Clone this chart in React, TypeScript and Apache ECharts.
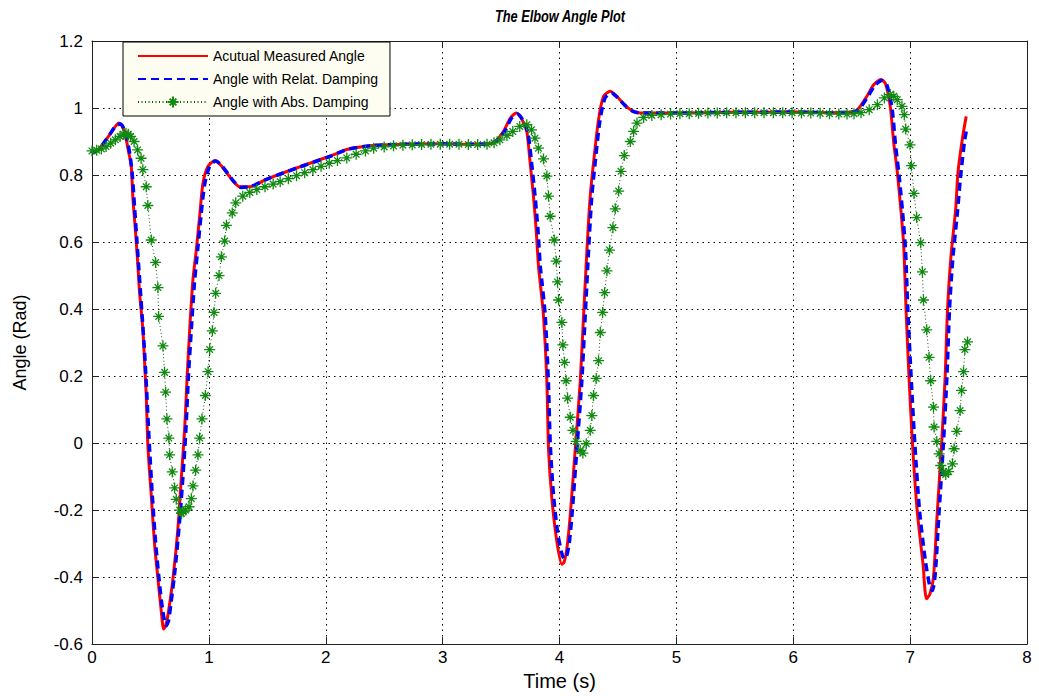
import React, { useEffect, useRef } from "react";
import * as echarts from "echarts";

const TITLE = "The Elbow Angle Plot";
const X_NAME = "Time (s)";
const Y_NAME = "Angle (Rad)";
const SERIES_NAMES = ["Acutual Measured Angle", "Angle with Relat. Damping", "Angle with Abs. Damping"];
const X_MIN = 0, X_MAX = 8, X_STEP = 1;
const Y_MIN = -0.6, Y_MAX = 1.2, Y_STEP = 0.2;

// Measured angle [time, angle]
const measured: number[][] = [
  [0, 0.865], [0.05, 0.875], [0.1, 0.895], [0.15, 0.92], [0.2, 0.945], [0.23, 0.955], [0.26, 0.945],
  [0.29, 0.91], [0.31, 0.875], [0.336, 0.826], [0.35, 0.73], [0.373, 0.628], [0.393, 0.529], [0.407, 0.449],
  [0.435, 0.34], [0.45, 0.241], [0.464, 0.142], [0.478, -0.007], [0.507, -0.156], [0.536, -0.305],
  [0.564, -0.404], [0.593, -0.503], [0.613, -0.555], [0.63, -0.545], [0.65, -0.513], [0.693, -0.404],
  [0.735, -0.255], [0.764, -0.106], [0.793, 0.043], [0.813, 0.191], [0.836, 0.34], [0.864, 0.489],
  [0.893, 0.578], [0.921, 0.677], [0.95, 0.777], [0.993, 0.826], [1.05, 0.843], [1.1, 0.83], [1.15, 0.808],
  [1.2, 0.785], [1.264, 0.765], [1.35, 0.765], [1.49, 0.787], [1.75, 0.821], [2.035, 0.856], [2.18, 0.876],
  [2.4, 0.888], [2.7, 0.892], [3.0, 0.893], [3.2, 0.892], [3.4, 0.893], [3.45, 0.9], [3.52, 0.93],
  [3.58, 0.97], [3.63, 0.985], [3.68, 0.965], [3.72, 0.93], [3.749, 0.836], [3.777, 0.737], [3.8, 0.638],
  [3.82, 0.529], [3.835, 0.479], [3.863, 0.38], [3.892, 0.182], [3.906, -0.017], [3.935, -0.166],
  [3.978, -0.295], [4.02, -0.362], [4.04, -0.355], [4.063, -0.315], [4.092, -0.215], [4.135, -0.017],
  [4.177, 0.182], [4.206, 0.38], [4.235, 0.578], [4.263, 0.737], [4.291, 0.836], [4.334, 0.965],
  [4.377, 1.035], [4.434, 1.05], [4.49, 1.035], [4.549, 1.012], [4.62, 0.992], [4.69, 0.985], [5.0, 0.985],
  [5.5, 0.987], [6.0, 0.988], [6.3, 0.986], [6.5, 0.988], [6.55, 0.995], [6.63, 1.035], [6.69, 1.07],
  [6.75, 1.085], [6.79, 1.072], [6.83, 1.005], [6.86, 0.895], [6.89, 0.81], [6.92, 0.7], [6.945, 0.59],
  [6.965, 0.4], [6.99, 0.2], [7.02, 0.0], [7.06, -0.2], [7.11, -0.36], [7.14, -0.465], [7.17, -0.45],
  [7.2, -0.4], [7.23, -0.22], [7.27, 0.0], [7.3, 0.2], [7.32, 0.4], [7.35, 0.56], [7.39, 0.7], [7.41, 0.81],
  [7.45, 0.915], [7.48, 0.975],
];

// Relative damping [time, angle]
const relDamping: number[][] = [
  [0, 0.865], [0.05, 0.875], [0.1, 0.895], [0.15, 0.92], [0.2, 0.945], [0.24, 0.952], [0.27, 0.94],
  [0.3, 0.905], [0.325, 0.86], [0.345, 0.8], [0.365, 0.7], [0.385, 0.6], [0.405, 0.5], [0.425, 0.4],
  [0.45, 0.27], [0.47, 0.14], [0.49, 0.0], [0.515, -0.15], [0.545, -0.3], [0.575, -0.41], [0.605, -0.5],
  [0.635, -0.545], [0.655, -0.53], [0.675, -0.48], [0.71, -0.38], [0.75, -0.23], [0.78, -0.09],
  [0.805, 0.05], [0.825, 0.2], [0.85, 0.34], [0.877, 0.48], [0.905, 0.58], [0.933, 0.68], [0.963, 0.77],
  [1.005, 0.825], [1.06, 0.842], [1.11, 0.828], [1.16, 0.805], [1.21, 0.782], [1.275, 0.763],
  [1.36, 0.766], [1.5, 0.788], [1.76, 0.822], [2.04, 0.856], [2.19, 0.877], [2.4, 0.888], [2.7, 0.892],
  [3.0, 0.893], [3.2, 0.892], [3.4, 0.893], [3.46, 0.902], [3.53, 0.93], [3.59, 0.97], [3.64, 0.982],
  [3.69, 0.962], [3.73, 0.925], [3.76, 0.84], [3.79, 0.74], [3.815, 0.64], [3.835, 0.53], [3.85, 0.48],
  [3.878, 0.38], [3.905, 0.18], [3.922, -0.01], [3.95, -0.16], [3.99, -0.28], [4.04, -0.345],
  [4.06, -0.338], [4.083, -0.3], [4.11, -0.2], [4.15, -0.01], [4.19, 0.18], [4.22, 0.38], [4.248, 0.57],
  [4.275, 0.73], [4.303, 0.83], [4.345, 0.96], [4.39, 1.03], [4.445, 1.045], [4.5, 1.03], [4.56, 1.008],
  [4.63, 0.99], [4.7, 0.985], [5.0, 0.985], [5.5, 0.987], [6.0, 0.988], [6.3, 0.986], [6.5, 0.988],
  [6.56, 0.995], [6.64, 1.035], [6.7, 1.068], [6.76, 1.082], [6.8, 1.07], [6.845, 1.0], [6.875, 0.89],
  [6.905, 0.8], [6.935, 0.69], [6.96, 0.58], [6.98, 0.4], [7.008, 0.2], [7.04, 0.0], [7.08, -0.2],
  [7.13, -0.35], [7.17, -0.43], [7.19, -0.44], [7.215, -0.39], [7.245, -0.22], [7.285, 0.0], [7.315, 0.2],
  [7.337, 0.4], [7.365, 0.55], [7.405, 0.69], [7.43, 0.79], [7.465, 0.9], [7.48, 0.93],
];

// Absolute damping samples [time, angle]
const absDamping: number[][] = [
  [0, 0.872], [0.04, 0.874], [0.08, 0.878], [0.12, 0.885], [0.16, 0.895], [0.2, 0.905], [0.24, 0.915],
  [0.27, 0.922], [0.29, 0.925], [0.31, 0.922], [0.33, 0.915], [0.36, 0.9], [0.39, 0.875], [0.42, 0.85],
  [0.435, 0.816], [0.464, 0.765], [0.478, 0.709], [0.507, 0.606], [0.544, 0.539], [0.564, 0.464],
  [0.57, 0.378], [0.607, 0.29], [0.621, 0.211], [0.63, 0.152], [0.641, 0.072], [0.658, 0.015],
  [0.664, -0.035], [0.687, -0.086], [0.707, -0.134], [0.721, -0.168], [0.75, -0.2], [0.765, -0.21],
  [0.78, -0.205], [0.8, -0.2], [0.83, -0.19], [0.85, -0.166], [0.864, -0.128], [0.887, -0.081],
  [0.907, -0.035], [0.921, 0.015], [0.941, 0.072], [0.97, 0.142], [0.993, 0.213], [1.007, 0.279],
  [1.03, 0.335], [1.044, 0.39], [1.058, 0.447], [1.087, 0.5], [1.107, 0.556], [1.135, 0.603], [1.15, 0.65],
  [1.2, 0.687], [1.23, 0.717], [1.29, 0.737], [1.35, 0.748], [1.41, 0.757], [1.48, 0.765], [1.55, 0.773],
  [1.61, 0.78], [1.68, 0.789], [1.75, 0.798], [1.82, 0.807], [1.89, 0.816], [1.96, 0.826], [2.03, 0.835],
  [2.1, 0.843], [2.18, 0.851], [2.26, 0.862], [2.34, 0.872], [2.41, 0.88], [2.5, 0.884], [2.58, 0.887],
  [2.66, 0.889], [2.74, 0.89], [2.82, 0.891], [2.9, 0.892], [2.98, 0.892], [3.06, 0.892], [3.14, 0.892],
  [3.22, 0.891], [3.3, 0.891], [3.38, 0.892], [3.44, 0.896], [3.49, 0.905], [3.55, 0.918], [3.6, 0.93],
  [3.66, 0.945], [3.72, 0.95], [3.76, 0.935], [3.79, 0.91], [3.82, 0.88], [3.863, 0.848], [3.892, 0.797],
  [3.906, 0.737], [3.92, 0.677], [3.955, 0.606], [3.972, 0.543], [3.983, 0.481], [3.992, 0.427],
  [4.02, 0.36], [4.029, 0.293], [4.043, 0.241], [4.057, 0.186], [4.069, 0.134], [4.092, 0.077],
  [4.115, 0.038], [4.143, 0.005], [4.177, -0.022], [4.2, -0.03], [4.229, -0.002], [4.263, 0.038],
  [4.277, 0.082], [4.291, 0.142], [4.314, 0.193], [4.334, 0.246], [4.349, 0.33], [4.369, 0.39],
  [4.386, 0.449], [4.406, 0.514], [4.428, 0.576], [4.457, 0.643], [4.477, 0.699], [4.506, 0.752],
  [4.526, 0.811], [4.554, 0.858], [4.606, 0.9], [4.634, 0.93], [4.663, 0.955], [4.72, 0.972], [4.79, 0.978],
  [4.87, 0.98], [4.95, 0.982], [5.03, 0.983], [5.11, 0.983], [5.19, 0.984], [5.27, 0.985], [5.35, 0.985],
  [5.43, 0.986], [5.51, 0.986], [5.59, 0.986], [5.67, 0.986], [5.75, 0.986], [5.83, 0.986], [5.91, 0.986],
  [5.99, 0.986], [6.07, 0.985], [6.15, 0.985], [6.23, 0.984], [6.31, 0.983], [6.39, 0.982], [6.46, 0.982],
  [6.52, 0.983], [6.58, 0.986], [6.65, 0.995], [6.72, 1.01], [6.78, 1.03], [6.83, 1.04], [6.86, 1.035],
  [6.89, 1.025], [6.93, 1.005], [6.95, 0.98], [6.962, 0.937], [6.999, 0.89], [7.011, 0.828], [7.033, 0.745],
  [7.056, 0.673], [7.09, 0.598], [7.105, 0.511], [7.114, 0.427], [7.142, 0.338], [7.162, 0.256],
  [7.176, 0.186], [7.2, 0.107], [7.205, 0.048], [7.228, 0.005], [7.248, -0.032], [7.262, -0.067],
  [7.285, -0.085], [7.305, -0.094], [7.33, -0.085], [7.362, -0.062], [7.376, -0.017], [7.399, 0.035],
  [7.428, 0.097], [7.44, 0.157], [7.457, 0.213], [7.468, 0.279], [7.491, 0.302],
];

const FONT = "'Liberation Sans', Arial, sans-serif";
const STAR = "path://M5 0 L5 10 M0 5 L10 5 M2 2 L8 8 M8 2 L2 8";

export default function App() {
  const ref = useRef<HTMLDivElement>(null);
  useEffect(() => {
    if (!ref.current) return;
    const chart = echarts.init(ref.current, null, { renderer: "svg" });
    const fmt = (v: number) => String(Math.round(v * 10) / 10);
    const axisLine = { show: true, onZero: false, lineStyle: { color: "#222", width: 1 } };
    const tick = { show: true, inside: true, length: 7, lineStyle: { color: "#222", width: 1 } };
    const split = { show: true, lineStyle: { color: "#000", width: 1, type: [1.5, 4] as any } };
    chart.setOption({
      animation: false,
      backgroundColor: "#fff",
      graphic: [
        {
          type: "text",
          x: 560,
          y: 8,
          scaleX: 0.8,
          style: {
            text: TITLE,
            textAlign: "center",
            textVerticalAlign: "top",
            fontFamily: FONT,
            fontSize: 16,
            fontWeight: "bold",
            fontStyle: "italic",
            fill: "#000",
          },
        },
      ],
      legend: {
        orient: "vertical",
        left: 123,
        top: 42,
        padding: [7, 12, 7, 14],
        itemWidth: 70,
        itemHeight: 14,
        itemGap: 9,
        backgroundColor: "#fdfdf2",
        borderColor: "#000",
        borderWidth: 1,
        borderRadius: 0,
        textStyle: { fontFamily: FONT, fontSize: 14, color: "#000" },
        data: [
          { name: SERIES_NAMES[0], itemStyle: { opacity: 0 } },
          { name: SERIES_NAMES[1], itemStyle: { opacity: 0 } },
          { name: SERIES_NAMES[2] },
        ],
      },
      grid: { left: 92, right: 12, top: 41, bottom: 49, containLabel: false },
      xAxis: [
        {
          type: "value", min: X_MIN, max: X_MAX, interval: X_STEP,
          name: X_NAME, nameLocation: "middle", nameGap: 23,
          nameTextStyle: { fontFamily: FONT, fontSize: 20, color: "#000" },
          axisLine, axisTick: tick, splitLine: split,
          axisLabel: { fontFamily: FONT, fontSize: 17, color: "#000", margin: 5, formatter: fmt },
        },
        {
          type: "value", min: X_MIN, max: X_MAX, interval: X_STEP, position: "top",
          axisLine, axisTick: tick, splitLine: { show: false }, axisLabel: { show: false },
        },
      ],
      yAxis: [
        {
          type: "value", min: Y_MIN, max: Y_MAX, interval: Y_STEP,
          name: Y_NAME, nameLocation: "middle", nameGap: 63,
          nameTextStyle: { fontFamily: FONT, fontSize: 18, color: "#000" },
          axisLine, axisTick: tick, splitLine: split,
          axisLabel: { fontFamily: FONT, fontSize: 17, color: "#000", margin: 9, formatter: fmt },
        },
        {
          type: "value", min: Y_MIN, max: Y_MAX, interval: Y_STEP, position: "right",
          axisLine, axisTick: tick, splitLine: { show: false }, axisLabel: { show: false },
        },
      ],
      series: [
        {
          name: SERIES_NAMES[0], type: "line", data: measured, symbol: "none", smooth: 0.25,
          lineStyle: { color: "#ff0000", width: 3 }, itemStyle: { color: "#ff0000" },
        },
        {
          name: SERIES_NAMES[1], type: "line", data: relDamping, symbol: "none", smooth: 0.25,
          lineStyle: { color: "#0000ff", width: 3.5, type: [8, 5] }, itemStyle: { color: "#0000ff" },
        },
        {
          name: SERIES_NAMES[2], type: "line", data: absDamping, symbol: STAR, symbolSize: 11,
          showSymbol: true, showAllSymbol: true,
          lineStyle: { color: "#0a5a0a", width: 1, type: [1, 2.5] },
          itemStyle: { color: "#108a10", borderColor: "#108a10", borderWidth: 1.3 },
        },
      ],
    });
    return () => chart.dispose();
  }, []);
  return (
    <div
      ref={ref}
      style={{ position: "fixed", left: 0, top: 0, width: 1039, height: 696, background: "#fff" }}
    />
  );
}
